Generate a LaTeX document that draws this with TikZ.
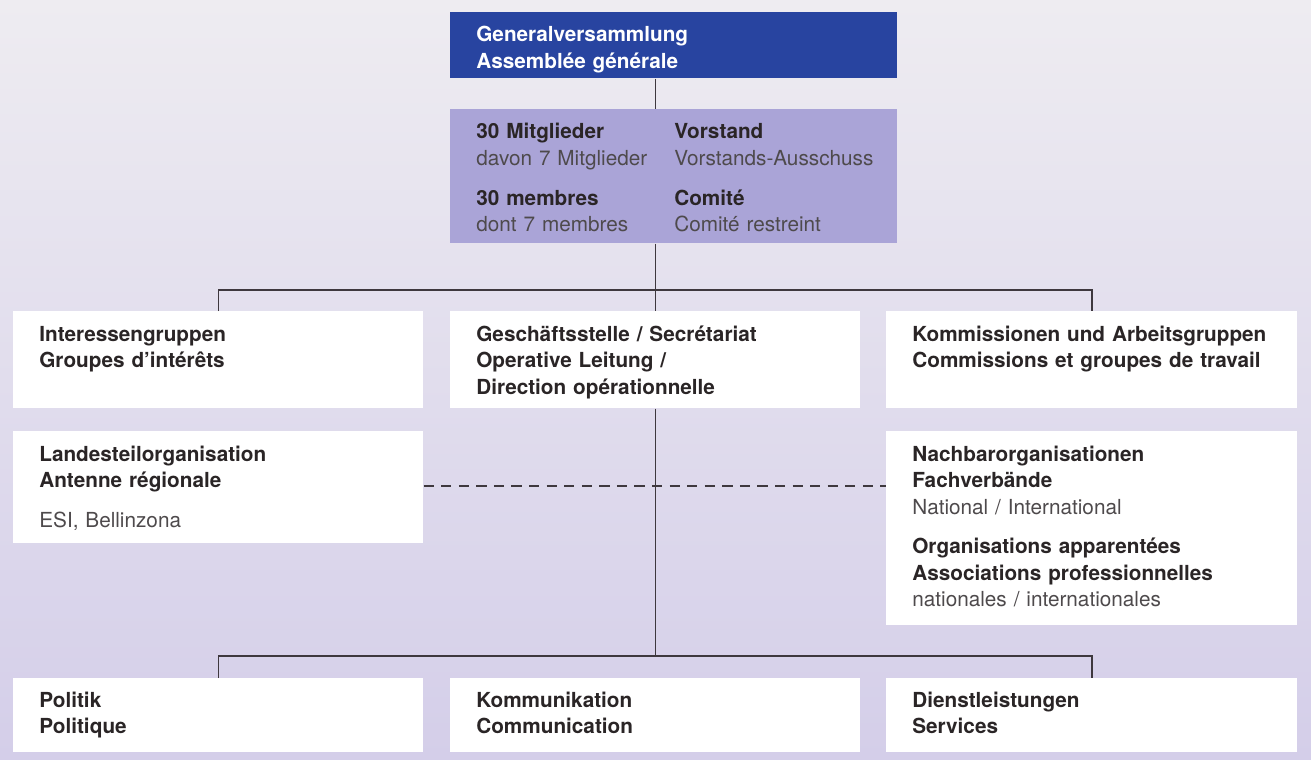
\documentclass[tikz,border=0pt]{standalone}
\usepackage{fontspec}
\setmainfont{TeX Gyre Heros}
\usetikzlibrary{positioning,calc}

\definecolor{gvblue}{RGB}{40,68,160}
\definecolor{boardlav}{RGB}{170,164,215}
\definecolor{bgtop}{RGB}{238,236,241}
\definecolor{bgbot}{RGB}{212,206,233}
\definecolor{headcol}{RGB}{42,37,38}
\definecolor{subcol}{RGB}{78,74,76}
\definecolor{linecol}{RGB}{62,56,62}

\tikzset{
  box/.style={rectangle, fill=white, draw=none, anchor=north west,
    minimum width=8.2cm, inner sep=0pt},
  boxtext/.style={anchor=base west, inner sep=0pt, align=left,
    text width=7.8cm, text=headcol,
    font=\fontsize{11.8}{15.1}\selectfont},
  link/.style={draw=linecol, line width=0.8pt},
  loose/.style={draw=linecol, line width=1.3pt, dash pattern=on 5.8pt off 4.2pt}
}
\newcommand{\sub}[1]{{\mdseries\color{subcol}#1}}

\begin{document}
\begin{tikzpicture}[x=0.02cm,y=-0.02cm]
  % background
  \shade[top color=bgtop, bottom color=bgbot] (0,0) rectangle (1311,760);
  \useasboundingbox (0,0) rectangle (1311,760);

  % top of the tree
  \node[box, fill=gvblue, minimum width=8.94cm, minimum height=1.32cm] (gv) at (450,12) {};
  \node[box, fill=boardlav, minimum width=8.94cm, minimum height=2.68cm] (board) at (450,109) {};

  % first row
  \node[box, minimum height=1.94cm] (interest) at (13,311) {};
  \node[box, minimum height=1.94cm] (office) at (450,311) {};
  \node[box, minimum height=1.94cm, minimum width=8.22cm] (commission) at (886,311) {};

  % second row
  \node[box, minimum height=2.24cm] (region) at (13,431) {};
  \node[box, minimum height=3.88cm, minimum width=8.22cm] (partner) at (886,431) {};

  % third row
  \node[box, minimum height=1.48cm] (politics) at (13,678) {};
  \node[box, minimum height=1.48cm] (communic) at (450,678) {};
  \node[box, minimum height=1.48cm, minimum width=8.22cm] (services) at (886,678) {};

  % texts
  \node[boxtext, text=white] (gvtxt) at ([shift={(26,30)}]gv.north west)
    {\bfseries Generalversammlung\\Assemblée générale};
  \node[boxtext, text width=3.8cm] (boardleft) at ([shift={(26,30)}]board.north west)
    {\bfseries 30 Mitglieder\\\sub{davon 7 Mitglieder}\\[7.5pt]30 membres\\\sub{dont 7 membres}};
  \node[boxtext, text width=4.5cm] (boardright) at ([shift={(224,30)}]board.north west)
    {\bfseries Vorstand\\\sub{Vorstands-Ausschuss}\\[7.5pt]Comité\\\sub{Comité restreint}};
  \node[boxtext] (interesttxt) at ([shift={(26,30)}]interest.north west)
    {\bfseries Interessengruppen\\Groupes d’intérêts};
  \node[boxtext] (officetxt) at ([shift={(26,30)}]office.north west)
    {\bfseries Geschäftsstelle / Secrétariat\\Operative Leitung /\\Direction opérationnelle};
  \node[boxtext] (commissiontxt) at ([shift={(26,30)}]commission.north west)
    {\bfseries Kommissionen und Arbeitsgruppen\\Commissions et groupes de travail};
  \node[boxtext] (regiontxt) at ([shift={(26,30)}]region.north west)
    {\bfseries Landesteilorganisation\\Antenne régionale\\[7.5pt]\sub{ESI, Bellinzona}};
  \node[boxtext] (partnertxt) at ([shift={(26,30)}]partner.north west)
    {\bfseries Nachbarorganisationen\\Fachverbände\\\sub{National / International}\\[7.5pt]Organisations apparentées\\Associations professionnelles\\\sub{nationales / internationales}};
  \node[boxtext] (politicstxt) at ([shift={(26,29)}]politics.north west)
    {\bfseries Politik\\Politique};
  \node[boxtext] (communictxt) at ([shift={(26,29)}]communic.north west)
    {\bfseries Kommunikation\\Communication};
  \node[boxtext] (servicestxt) at ([shift={(26,29)}]services.north west)
    {\bfseries Dienstleistungen\\Services};

  % connectors
  \coordinate (upperbar) at ($(office.north)+(0,-21)$);
  \coordinate (lowerbar) at ($(communic.north)+(0,-22)$);
  \path[link] (gv.south -| office.north) -- (board.north -| office.north);
  \path[link] (board.south -| office.north) -- (office.north);
  \path[link] (interest.north) -- (interest.north |- upperbar)
    -- (commission.north |- upperbar) -- (commission.north);
  \path[link] (office.south) -- (lowerbar);
  \path[link] (politics.north) -- (politics.north |- lowerbar)
    -- (services.north |- lowerbar) -- (services.north);
  \path[loose] (region.east |- 0,486) -- (partner.west |- 0,486);
\end{tikzpicture}
\end{document}
